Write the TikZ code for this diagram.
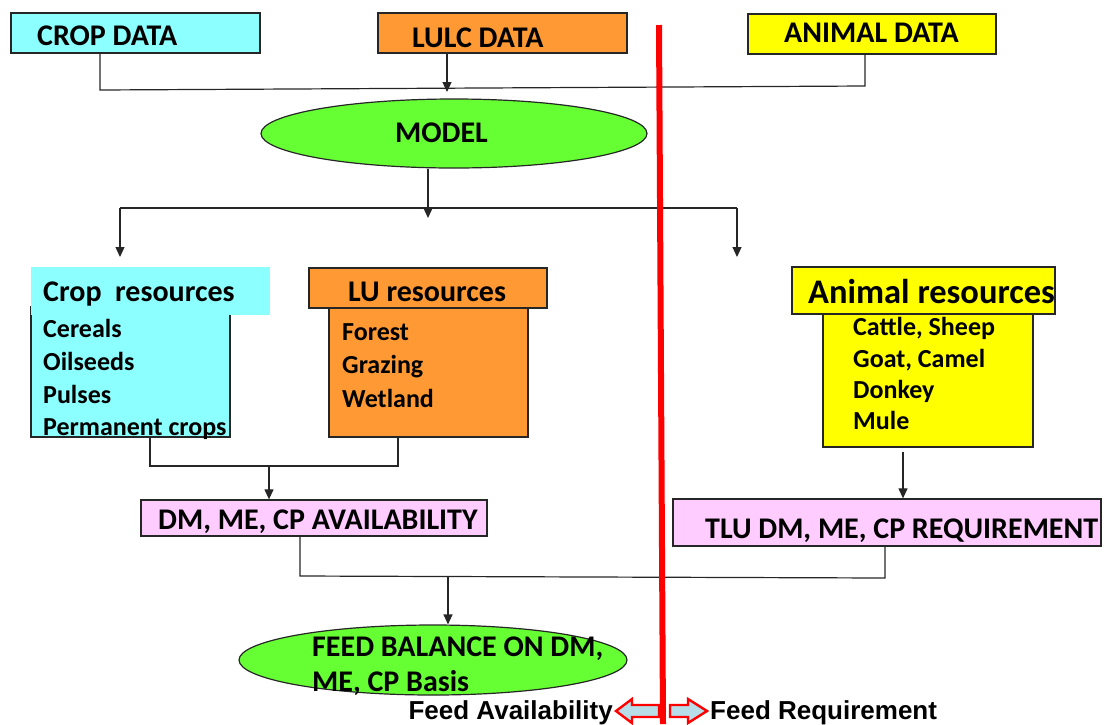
\documentclass[tikz,border=0pt]{standalone}
\usepackage{fontspec}
\setmainfont{Carlito}
\newfontfamily\arialfont{Liberation Sans}
\usetikzlibrary{arrows.meta,calc,shapes.geometric}
\definecolor{cropcyan}{RGB}{140,255,255}
\definecolor{luorange}{RGB}{255,153,51}
\definecolor{animyellow}{RGB}{255,255,0}
\definecolor{modelgreen}{RGB}{102,255,51}
\definecolor{boxpink}{RGB}{255,204,255}
\definecolor{arrowfill}{RGB}{183,222,232}
\tikzset{
  box/.style={rectangle, draw=black!85, line width=1.3pt, inner sep=0pt},
  oval/.style={ellipse, draw=black!85, line width=1.2pt, inner sep=0pt, fill=modelgreen},
  conn/.style={line width=1.2pt, black!85},
  arr/.style={conn, -{Triangle[length=10pt,width=9pt]}},
  lbl/.style={inner sep=0pt, anchor=base west},
  big/.style={lbl, font={\bfseries\fontsize{30}{34}\selectfont}},
  item/.style={lbl, font={\bfseries\fontsize{26}{30}\selectfont}},
  fat/.style={line width=2.4pt, draw=red, fill=arrowfill, line join=miter},
}
\begin{document}
\begin{tikzpicture}[x=1pt,y=-1pt]
\useasboundingbox (0,0) rectangle (1105,724);

% top data boxes
\node[box, fill=cropcyan, minimum width=249pt, minimum height=40pt] (cropdata) at (135.5,33) {};
\node[box, fill=luorange, minimum width=249pt, minimum height=40pt] (lulcdata) at (502.5,33) {};
\node[box, fill=animyellow, minimum width=248pt, minimum height=40pt] (animaldata) at (872,34) {};
\node[big] (tcropdata) at (37,45) {CROP DATA};
\node[big] (tlulcdata) at (412,47) {LULC DATA};
\node[big] (tanimaldata) at (784,42) {ANIMAL DATA};

% model
\node[oval, minimum width=386pt, minimum height=69pt] (model) at (454,133.5) {};
\node[big] (tmodel) at (395,142) {MODEL};

% crop resources
\node[box, fill=cropcyan, minimum width=199pt, minimum height=130pt] (cropbody) at (130.5,372) {};
\node[rectangle, fill=cropcyan, inner sep=0pt, minimum width=239pt, minimum height=48pt] (crophead) at (150.5,291) {};
\node[big] (tcrophead) at (43,301) {Crop\ \ resources};
\node[item] (tcereals) at (43,337) {Cereals};
\node[item] (toilseeds) at (43,370) {Oilseeds};
\node[item] (tpulses) at (43,403) {Pulses};
\node[item] (tperm) at (43,435) {Permanent crops};

% LU resources
\node[box, fill=luorange, minimum width=199pt, minimum height=129pt] (lubody) at (428.5,372.5) {};
\node[box, fill=luorange, minimum width=238pt, minimum height=40pt] (luhead) at (428,288) {};
\node[big] (tluhead) at (348,301) {LU resources};
\node[item] (tforest) at (342,340) {Forest};
\node[item] (tgrazing) at (342,373) {Grazing};
\node[item] (twetland) at (342,407) {Wetland};

% animal resources
\node[box, fill=animyellow, minimum width=210pt, minimum height=133pt] (animbody) at (928,380.5) {};
\node[box, fill=animyellow, minimum width=263pt, minimum height=47pt] (animhead) at (923.5,290.5) {};
\node[lbl, font={\bfseries\fontsize{34.5}{38}\selectfont}] (tanimhead) at (808,303) {Animal resources};
\node[item] (tcattle) at (853,335) {Cattle, Sheep};
\node[item] (tgoat) at (853,367) {Goat, Camel};
\node[item] (tdonkey) at (853,398) {Donkey};
\node[item] (tmule) at (853,429) {Mule};

% availability / requirement
\node[box, fill=boxpink, minimum width=346pt, minimum height=36pt] (avail) at (314,518) {};
\node[big] (tavail) at (158,529) {DM, ME, CP AVAILABILITY};
\node[box, fill=boxpink, minimum width=428pt, minimum height=47pt] (tlu) at (887,522.5) {};
\node[big] (ttlu) at (705,538) {TLU DM, ME, CP REQUIREMENT};

% feed balance
\node[oval, minimum width=388pt, minimum height=70pt] (feedbal) at (433,660) {};
\node[big] (tfb1) at (312,656) {FEED BALANCE ON DM,};
\node[big] (tfb2) at (312,691) {ME, CP Basis};

% junction coordinates
\coordinate (c1) at (100,90);
\coordinate (c2) at (865,86);
\coordinate (c3) at (447,92);
\coordinate (m1) at (428,208);
\coordinate (m2) at (428,218);
\coordinate (hl) at (120,208);
\coordinate (hr) at (737,208);
\coordinate (al) at (120,257);
\coordinate (ar) at (737,257);
\coordinate (r1) at (150,466);
\coordinate (r2) at (398,466);
\coordinate (r3) at (269,466);
\coordinate (a1) at (903,452);
\coordinate (b1) at (300,576);
\coordinate (b2) at (885,578);
\coordinate (b3) at (448,577);

% connectors
\draw[conn] (cropdata.south -| c1) -- (c1) -- (c2) -- (animaldata.south -| c2);
\draw[arr] (lulcdata.south -| c3) -- (c3);
\draw[conn] (model.south -| m1) -- (m1);
\draw[arr] (m1) -- (m2);
\draw[conn] (hl) -- (hr);
\draw[arr] (hl) -- (al);
\draw[arr] (hr) -- (ar);
\draw[conn] (cropbody.south -| r1) -- (r1) -- (r2) -- (lubody.south -| r2);
\draw[arr] (r3) -- (avail.north -| r3);
\draw[arr] (a1) -- (tlu.north -| a1);
\draw[conn] (avail.south -| b1) -- (b1) -- (b2) -- (tlu.south -| b2);
\draw[arr] (b3) -- (feedbal.north -| b3);

% red divider
\coordinate (redtop) at (659,25);
\coordinate (redbot) at (663,724);
\draw[red, line width=6pt] (redtop) -- (redbot);

% bottom block arrows
\draw[fat] (616,711) -- (632,699) -- (632,705) -- (659,705) -- (659,717) -- (632,717) -- (632,723) -- cycle;
\draw[fat] (707,711) -- (688,699) -- (688,705) -- (670,705) -- (670,717) -- (688,717) -- (688,723) -- cycle;
\node[inner sep=0pt, anchor=base east, font={\arialfont\bfseries\fontsize{26}{30}\selectfont}] (tfa) at (613,719) {Feed Availability};
\node[inner sep=0pt, anchor=base west, font={\arialfont\bfseries\fontsize{26}{30}\selectfont}] (tfr) at (710,719) {Feed Requirement};
\end{tikzpicture}
\end{document}
